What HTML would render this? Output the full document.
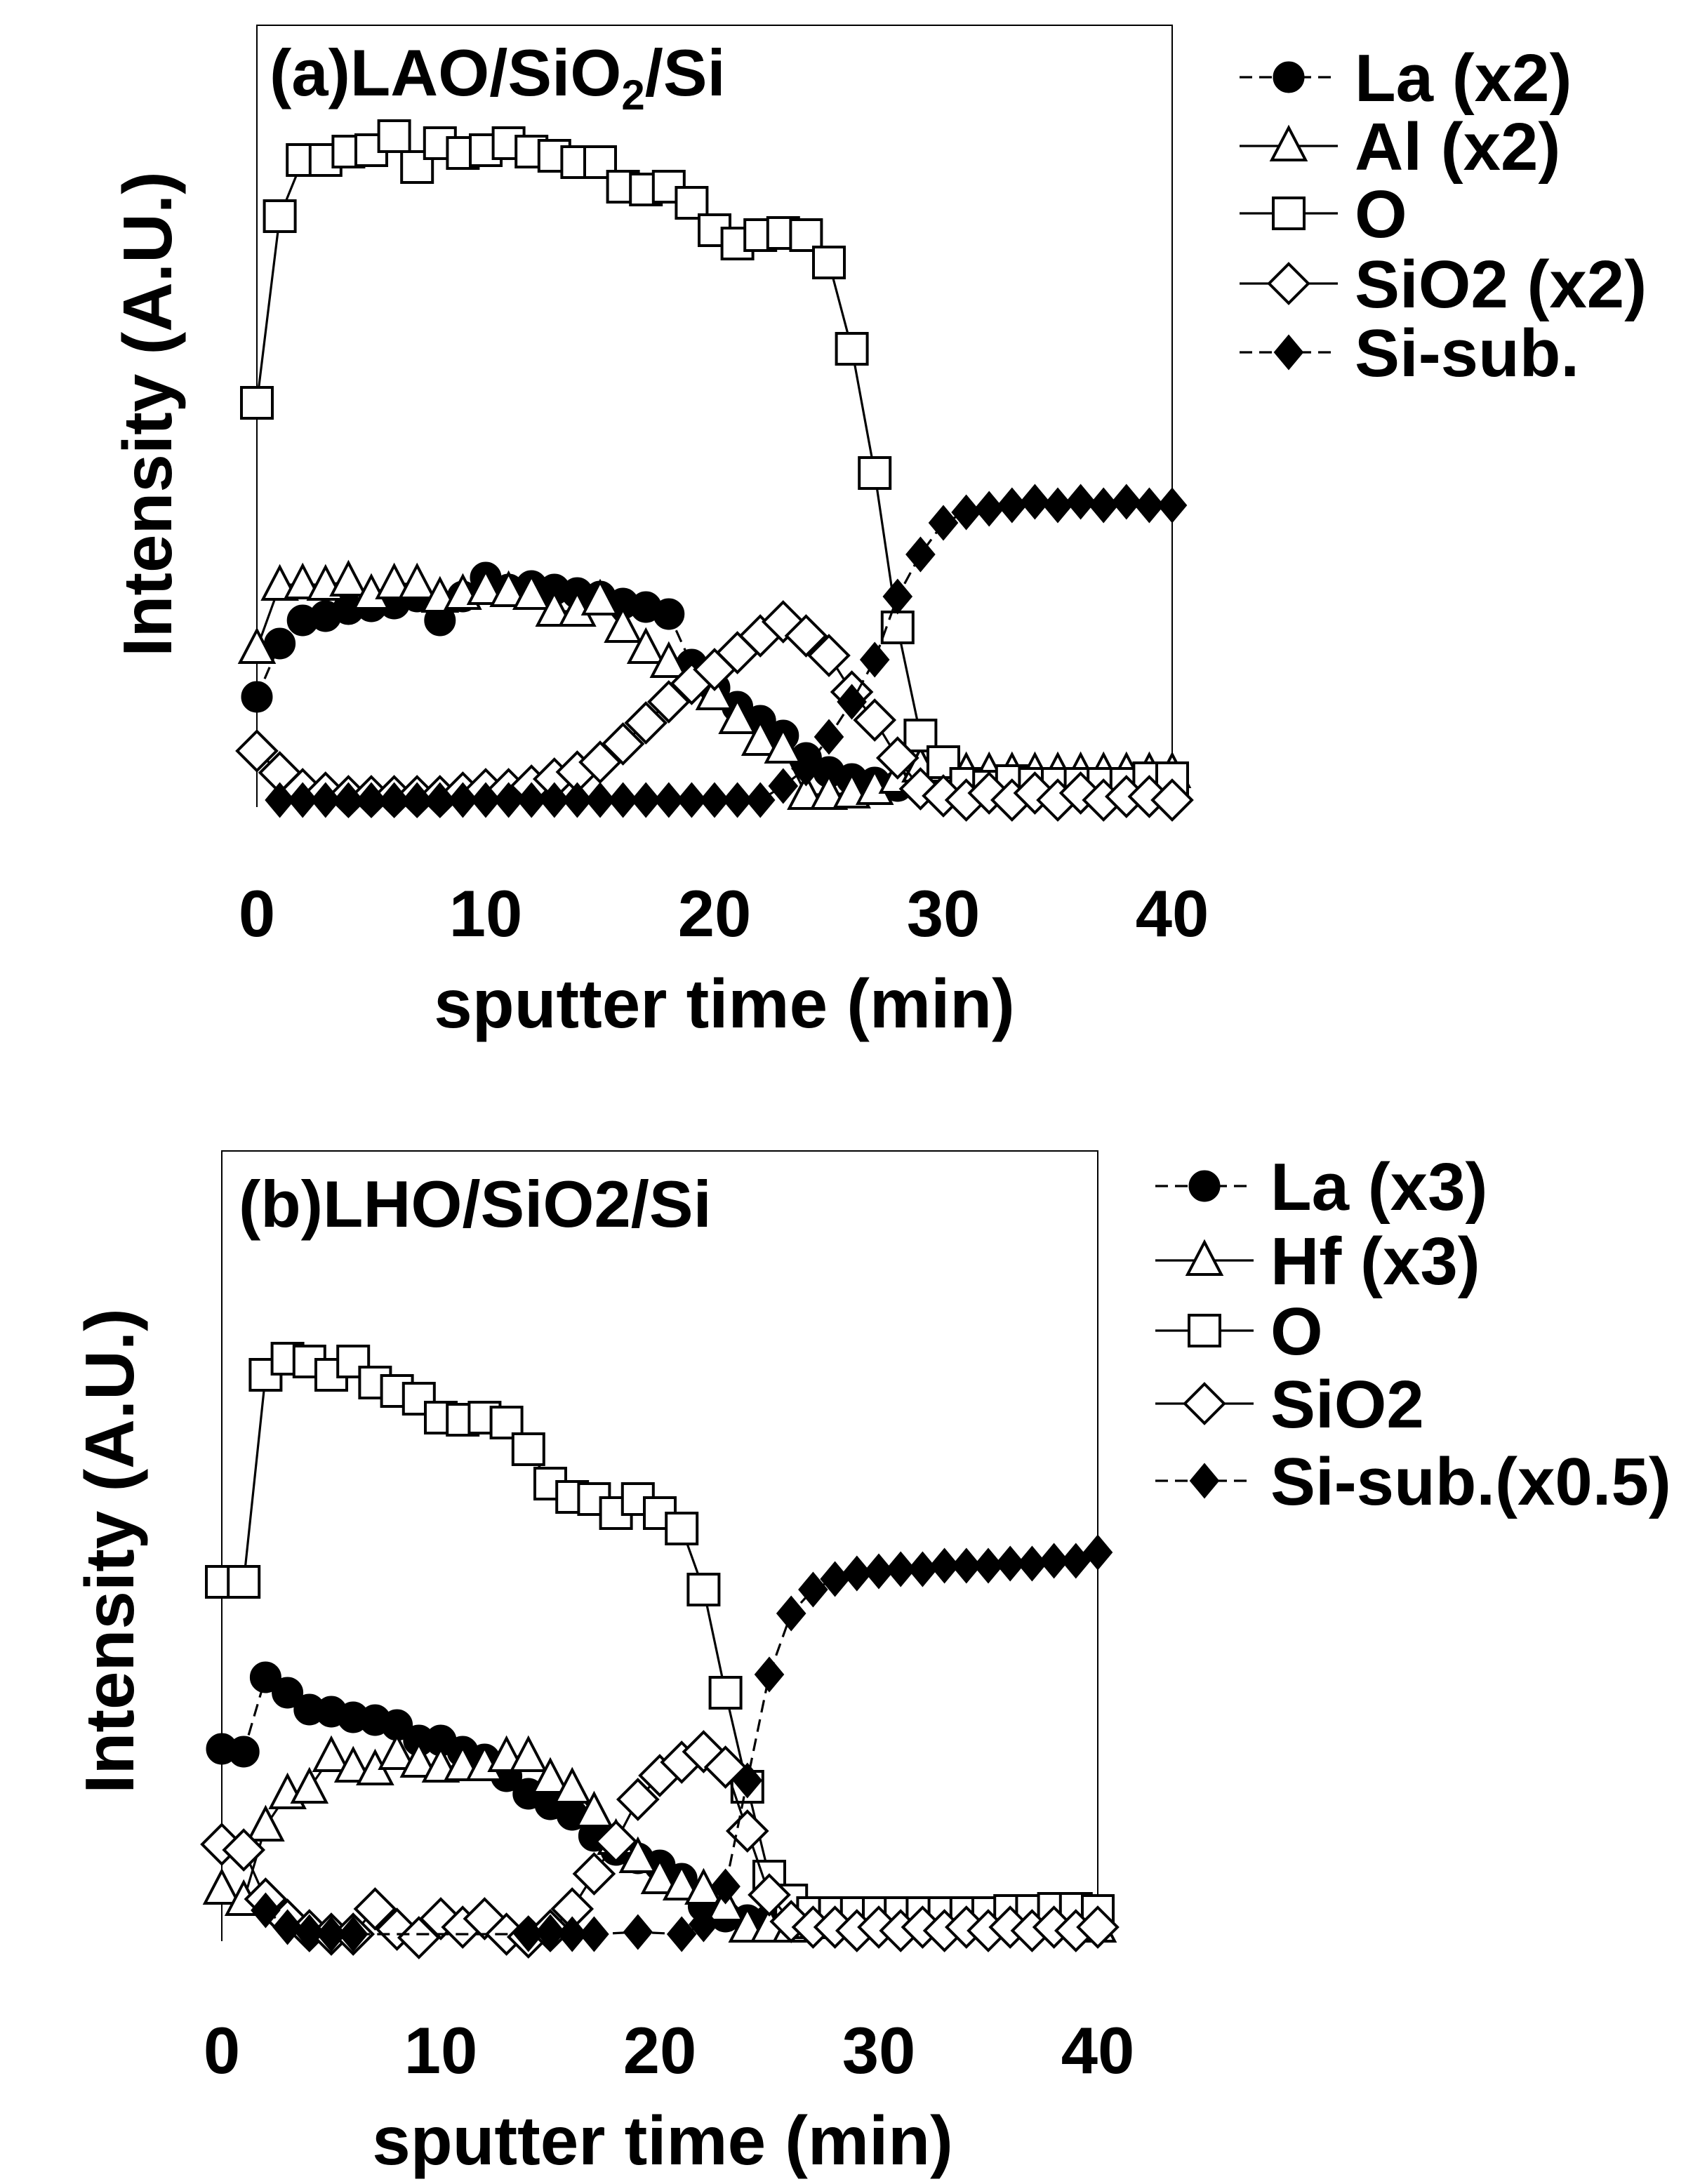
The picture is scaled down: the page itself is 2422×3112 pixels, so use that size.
<!DOCTYPE html>
<html><head><meta charset="utf-8">
<style>
html,body{margin:0;padding:0;background:#fff;}
svg{display:block;}
text{font-family:"Liberation Sans",Arial,sans-serif;font-weight:bold;fill:#000;}
</style></head>
<body>
<svg id="chart" width="2422" height="3112" viewBox="0 0 1211 1556" xmlns="http://www.w3.org/2000/svg">
<g id="panelA"></g>
<g id="panelB"></g>
</svg>
<script>
// ---- data: sputter time (min) ----
const timesA = [0,1,2,3,4,5,6,7,8,9,10,11,12,13,14,15,16,17,18,19,20,21,22,23,24,25,26,27,28,29,30,31,32,33,34,35,36,37,38,39,40];
const xTicks = [0,10,20,30,40];
// panel (a) LAO/SiO2/Si
const laA  = [15.7,23.3,26.6,27.2,28.2,28.6,29,30,26.6,30,32.7,31,31.5,31,30.5,30,29,28.5,27.5,20.3,17,14.3,12.3,10.2,7,5,4,3.5,3,3,2.5,3,3,3,3.5,3.5,3.5,3,3,3,3];
const alA  = [22.6,31.6,31.8,31.6,32.2,30.3,31.8,31.8,29.9,30.3,31,30.7,30.3,27.9,27.9,29.5,25.6,22.6,20.6,18.3,16,12.6,9.5,8.4,1.8,1.8,2,2.5,4.1,5.7,5.7,4.9,4.9,4.9,4.9,4.9,4.9,4.9,4.9,4.9,4.9];
const oA   = [57.6,84.2,92.2,92.2,93.4,93.6,95.6,91.2,94.6,93.2,93.6,94.6,93.4,92.8,91.9,91.9,88.4,88,88.4,86.1,82.2,80.3,81.5,81.8,81.5,77.6,65.3,47.6,25.6,10.2,6.4,3.3,2.9,3.7,3.3,3.3,3.3,3.3,3.3,4.1,4.1];
const sio2A= [8,4.9,2.5,2,1.5,1.5,1.5,1.5,1.5,2,2.5,2.5,3,4,5,6.4,9,12,15,17.6,19.6,22,24.4,26.4,24.4,21.6,16.4,12.4,7,2.6,1.6,1,2,1,2,1,2,1,1.5,1.5,1];
const siA  = [null,1,1,1,1,1,1,1,1,1,1,1,1,1,1,1,1,1,1,1,1,1,1,3,5.5,10,15,21,30,36,40.5,42,42.5,43,43.5,43,43.5,43,43.5,43,43];
// panel (b) LHO/SiO2/Si
const laB  = [27.4,27,37.6,35.4,33,32.7,31.9,31.5,30.8,28.6,28.6,27,25.9,23.5,21,19.5,18,15,13,11.8,10.8,8.9,5,3.5,3,3,3,3,3,3,4,3,3,3,3,3,3,3,3,3,3];
const hfB  = [7.4,5.8,16.4,21,21.8,26.3,24.8,24.4,26.6,25.5,24.8,25,25,26.3,26.3,23.2,21.8,18.4,14.5,11.9,8.9,8,7.4,5,2,2,2,2.5,2.5,2.5,2.5,2.5,2.5,2.5,2.5,2.5,2.5,2.5,2.5,2.5,2];
const oB   = [51.2,51.2,80.7,83,82.6,80.7,82.6,79.6,78.4,77.3,74.6,74.3,74.6,73.9,70.1,65.2,63.3,63,61,63,61,58.8,50.1,35.4,22,9.2,5.8,4,4,4,4,4,4,4,4,4,4.3,4.3,4.6,4.6,4.3];
const sio2B= [13.8,13,6,3,1.5,1,1,4.6,1.7,0.5,3.2,2,3.2,1,0.6,1.5,4.6,9.6,14.2,20.2,23.6,25.5,27,24.8,15.7,6.6,2.8,2,2,1.5,2,1.5,2,1.5,2,1.5,2,1.5,2,1.5,2];
const siB  = [null,null,4.4,2,1.3,1,1,null,null,null,null,null,null,null,1,1.3,1,1,null,1.3,null,1,2.4,7.8,22.9,38,46.7,50.1,51.6,52.4,52.7,53,53,53.5,53.5,53.5,53.8,53.8,54.2,54.2,55.4];

const NS="http://www.w3.org/2000/svg";
function mk(parent,tag,attrs){const e=document.createElementNS(NS,tag);for(const k in attrs)e.setAttribute(k,attrs[k]);parent.appendChild(e);return e;}

function marker(g,type,x,y){
  let e;
  if(type==='circle'){e=mk(g,'circle',{cx:x,cy:y,r:10.5,fill:'#000',stroke:'#000','stroke-width':1.5});}
  else if(type==='square'){e=mk(g,'rect',{x:x-11,y:y-11,width:22,height:22,fill:'#fff',stroke:'#000','stroke-width':2});}
  else if(type==='triangle'){e=mk(g,'polygon',{points:`${x},${y-13} ${x-12},${y+10} ${x+12},${y+10}`,fill:'#fff',stroke:'#000','stroke-width':2});}
  else if(type==='diamond'){e=mk(g,'polygon',{points:`${x},${y-14} ${x+14},${y} ${x},${y+14} ${x-14},${y}`,fill:'#fff',stroke:'#000','stroke-width':2});}
  else {e=mk(g,'polygon',{points:`${x},${y-12} ${x+10},${y} ${x},${y+12} ${x-10},${y}`,fill:'#000',stroke:'#000','stroke-width':1});}
  
  
  return e;
}

function drawPanel(root,cfg){
  const X=t=>cfg.x0+t*cfg.dx;
  const Y=v=>cfg.y0-v*5;
  const fr=mk(root,'path',{d:`M${cfg.x0},${cfg.y0} L${cfg.x0},${cfg.top} L${X(40)},${cfg.top} L${X(40)},${cfg.y0}`,fill:'none',stroke:'#000','stroke-width':1});
  
  
  cfg.series.forEach(s=>{
    const g=mk(root,'g',{});
    
    
    let d='';
    s.data.forEach((v,i)=>{if(v===null)return;d+=(d?'L':'M')+X(timesA[i])+','+Y(v)+' ';});
    const ln=mk(g,'path',{d:d,fill:'none',stroke:'#000','stroke-width':1.6,'stroke-dasharray':s.dash?'9,5':'none'});
    
    
    s.data.forEach((v,i)=>{if(v===null)return;marker(g,s.mk,X(timesA[i]),Y(v));});
  });
  xTicks.forEach(t=>{
    const tx=mk(root,'text',{x:X(t),y:cfg.tickY,'font-size':47,'text-anchor':'middle'});
    tx.textContent=t;
    
    
  });
  const xt=mk(root,'text',{x:cfg.xTitleX,y:cfg.xTitleY,'font-size':49,'text-anchor':'middle'});
  xt.textContent='sputter time (min)';
  
  
  const yt=mk(root,'text',{x:0,y:0,'font-size':49,'text-anchor':'middle',transform:`translate(${cfg.yTitleX},${cfg.yTitleY}) rotate(-90)`});
  yt.textContent='Intensity (A.U.)';
  
  
  cfg.series.forEach((s,i)=>{
    const g=mk(root,'g',{});
    
    
    const ly=cfg.legY[i];
    mk(g,'line',{x1:cfg.legX,y1:ly,x2:cfg.legX+70,y2:ly,stroke:'#000','stroke-width':1.6,'stroke-dasharray':s.dash?'9,5':'none'});
    marker(g,s.mk,cfg.legX+35,ly);
    const t=mk(g,'text',{x:cfg.legX+82,y:ly+17,'font-size':48});
    t.textContent=s.label;
  });
}

const pa=document.getElementById('panelA');
drawPanel(pa,{x0:183,dx:16.3,y0:575,top:18,tickY:667,xTitleX:516,xTitleY:732,yTitleX:122,yTitleY:295,legX:883,legY:[55,104,152,202,251],
  series:[
   {name:'la-x2-series',label:'La (x2)',data:laA,mk:'circle',dash:true},
   {name:'al-x2-series',label:'Al (x2)',data:alA,mk:'triangle',dash:false},
   {name:'o-series',label:'O',data:oA,mk:'square',dash:false},
   {name:'sio2-x2-series',label:'SiO2 (x2)',data:sio2A,mk:'diamond',dash:false},
   {name:'si-sub-series',label:'Si-sub.',data:siA,mk:'fdiamond',dash:true}]});
const ta=mk(pa,'text',{x:192,y:68,'font-size':47});


ta.innerHTML='(a)LAO/SiO<tspan font-size="30" dy="10">2</tspan><tspan dy="-10">/Si</tspan>';

const pb=document.getElementById('panelB');
drawPanel(pb,{x0:158,dx:15.6,y0:1383,top:820,tickY:1477,xTitleX:472,xTitleY:1542,yTitleX:95,yTitleY:1105,legX:823,legY:[845,898,948,1000,1055],
  series:[
   {name:'la-x3-series',label:'La (x3)',data:laB,mk:'circle',dash:true},
   {name:'hf-x3-series',label:'Hf (x3)',data:hfB,mk:'triangle',dash:false},
   {name:'o-series-b',label:'O',data:oB,mk:'square',dash:false},
   {name:'sio2-series-b',label:'SiO2',data:sio2B,mk:'diamond',dash:false},
   {name:'si-sub-x05-series',label:'Si-sub.(x0.5)',data:siB,mk:'fdiamond',dash:true}]});
const tb=mk(pb,'text',{x:170,y:874,'font-size':47});


tb.textContent='(b)LHO/SiO2/Si';
</script>
</body></html>
